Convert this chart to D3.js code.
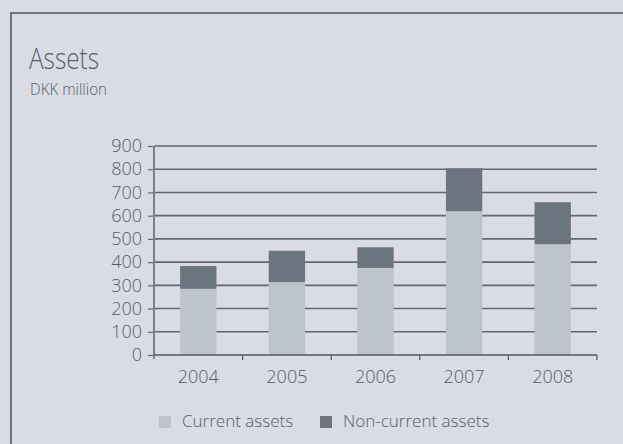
<!DOCTYPE html>
<html>
<head>
<meta charset="utf-8">
<script src="https://cdn.jsdelivr.net/npm/d3@7"></script>
<style>
  body { margin: 0; background: #d9dce4; }
  text { font-family: "Open Sans", "DejaVu Sans", sans-serif; }
</style>
</head>
<body>
<div id="chart"></div>
<script>
var w = 623;
var h = 444;

// data (DKK million)
var years = ['2004', '2005', '2006', '2007', '2008'];
var current = [285, 314, 375, 619, 477];
var nonCurrent = [98, 135, 89, 185, 181];
var yTicks = [0, 100, 200, 300, 400, 500, 600, 700, 800, 900];
var seriesNames = ['Current assets', 'Non-current assets'];
var seriesColors = ['#bcc3cb', '#6b757f'];

var svg = d3.select('#chart')
            .append('svg')
            .attr('width', w)
            .attr('height', h);

svg.append('rect')
   .attr('width', w)
   .attr('height', h)
   .style('fill', '#d9dce4');

// frame, only top + left visible
svg.append('path')
   .attr('d', 'M11,' + (h + 5) + 'V13H' + (w + 5))
   .style('fill', 'none')
   .style('stroke', '#6d767f')
   .style('stroke-width', 2);

svg.append('text')
   .attr('x', 29)
   .attr('y', 69)
   .attr('textLength', 70)
   .attr('lengthAdjust', 'spacingAndGlyphs')
   .style('font-size', '30px')
   .style('font-weight', 300)
   .style('fill', '#555f69')
   .text('Assets');

svg.append('text')
   .attr('x', 30)
   .attr('y', 95)
   .attr('textLength', 77)
   .attr('lengthAdjust', 'spacingAndGlyphs')
   .style('font-size', '16px')
   .style('font-weight', 300)
   .style('fill', '#555f69')
   .text('DKK million');

var x = d3.scaleBand()
          .domain(years)
          .range([154, 597])
          .paddingInner(0.59)
          .paddingOuter(0.295);

var y = d3.scaleLinear()
          .domain([0, 900])
          .range([355, 146]);

// gridlines
svg.append('g')
   .selectAll('line')
   .data(yTicks.slice(1))
   .enter()
   .append('line')
   .attr('x1', 154)
   .attr('x2', 597)
   .attr('y1', function(d){ return y(d); })
   .attr('y2', function(d){ return y(d); })
   .style('stroke', '#5f6973')
   .style('stroke-width', 1.6);

var stacked = d3.stack().keys([0, 1])(years.map(function(yr, i){
    return {0: current[i], 1: nonCurrent[i], year: yr};
}));

svg.append('g')
   .selectAll('g')
   .data(stacked)
   .enter()
   .append('g')
   .style('fill', function(d, i){ return seriesColors[i]; })
   .selectAll('rect')
   .data(function(d){ return d; })
   .enter()
   .append('rect')
   .attr('x', function(d){ return x(d.data.year); })
   .attr('width', x.bandwidth())
   .attr('y', function(d){ return y(d[1]); })
   .attr('height', function(d){ return y(d[0]) - y(d[1]); });

// y axis
var yAxis = d3.axisLeft(y)
              .tickValues(yTicks)
              .tickSize(6)
              .tickPadding(6);
var yg = svg.append('g')
            .attr('transform', 'translate(154,0)')
            .call(yAxis);
yg.select('.domain').remove();
yg.append('line')
  .attr('y1', 146)
  .attr('y2', 359)
  .style('stroke', '#79828b')
  .style('stroke-width', 2);
yg.selectAll('.tick line').style('stroke', '#5f6973').style('stroke-width', 1.2);
yg.selectAll('.tick text')
  .style('font-size', '18px')
  .style('font-weight', 300)
  .style('fill', '#555f69')
  .style('font-family', '"Open Sans", sans-serif');

// x axis with ticks at band edges
svg.append('line')
   .attr('x1', 154)
   .attr('x2', 597)
   .attr('y1', 355)
   .attr('y2', 355)
   .style('stroke', '#4e5862')
   .style('stroke-width', 1.6);

var edges = years.slice(1).map(function(d){ return x(d) - x.step() * x.paddingInner() / 2; });
edges.push(597);
svg.append('g')
   .selectAll('line')
   .data(edges)
   .enter()
   .append('line')
   .attr('x1', function(d){ return d; })
   .attr('x2', function(d){ return d; })
   .attr('y1', 355)
   .attr('y2', 360)
   .style('stroke', '#4e5862')
   .style('stroke-width', 1.2);

svg.append('g')
   .selectAll('text')
   .data(years)
   .enter()
   .append('text')
   .attr('x', function(d){ return x(d) + x.bandwidth() / 2; })
   .attr('y', 383)
   .attr('text-anchor', 'middle')
   .style('font-size', '18px')
   .style('font-weight', 300)
   .style('fill', '#555f69')
   .text(function(d){ return d; });

// legend
var legendX = [159, 320];
var legend = svg.append('g')
                .selectAll('g')
                .data(seriesNames)
                .enter()
                .append('g')
                .attr('transform', function(d, i){ return 'translate(' + legendX[i] + ',416)'; });
legend.append('rect')
      .attr('width', 12)
      .attr('height', 12)
      .style('fill', function(d, i){ return seriesColors[i]; });
legend.append('text')
      .attr('x', 23)
      .attr('y', 11)
      .style('font-size', '17px')
      .style('font-weight', 300)
      .style('fill', '#555f69')
      .text(function(d){ return d; });
</script>
</body>
</html>
